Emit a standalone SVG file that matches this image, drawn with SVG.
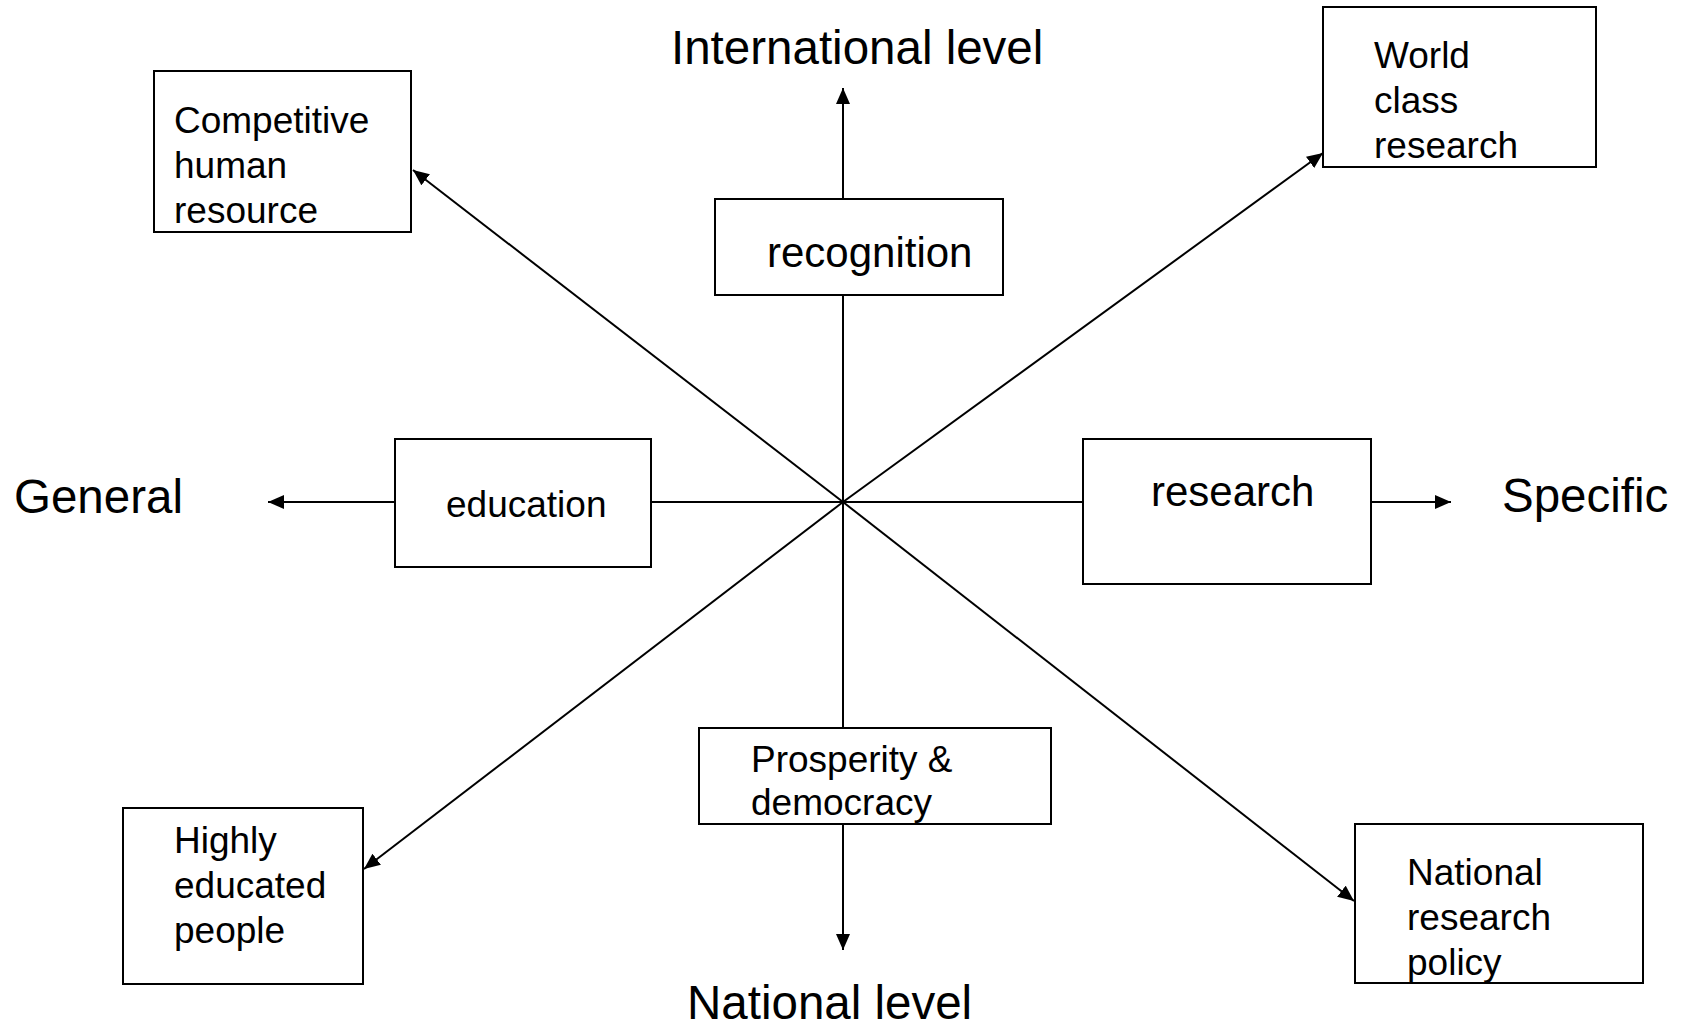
<svg xmlns="http://www.w3.org/2000/svg" width="1686" height="1029" viewBox="0 0 1686 1029">
<style>
  .box { fill: #ffffff; stroke: #000000; stroke-width: 2; }
  .ln { stroke: #000000; stroke-width: 2; fill: none; }
  .big { font-family: "Liberation Sans", Arial, sans-serif; font-size: 47.5px; fill: #000000; }
  .mid { font-family: "Liberation Sans", Arial, sans-serif; font-size: 42px; fill: #000000; }
  .txt { font-family: "Liberation Sans", Arial, sans-serif; font-size: 37px; fill: #000000; }
</style>
<defs>
  <marker id="arr" markerUnits="userSpaceOnUse" markerWidth="16" markerHeight="14" refX="16" refY="7" orient="auto">
    <path d="M0,0 L16,7 L0,14 z" fill="#000000"/>
  </marker>
</defs>
<rect x="0" y="0" width="1686" height="1029" fill="#ffffff"/>

<g id="connectors">
  <line class="ln" x1="843" y1="502" x2="843" y2="88" marker-end="url(#arr)"/>
  <line class="ln" x1="843" y1="502" x2="843" y2="950" marker-end="url(#arr)"/>
  <line class="ln" x1="843" y1="502" x2="268" y2="502" marker-end="url(#arr)"/>
  <line class="ln" x1="843" y1="502" x2="1451" y2="502" marker-end="url(#arr)"/>
  <line class="ln" x1="843" y1="502" x2="413" y2="170" marker-end="url(#arr)"/>
  <line class="ln" x1="843" y1="502" x2="1323" y2="153" marker-end="url(#arr)"/>
  <line class="ln" x1="843" y1="502" x2="364" y2="869" marker-end="url(#arr)"/>
  <line class="ln" x1="843" y1="502" x2="1354" y2="901" marker-end="url(#arr)"/>
</g>

<g id="label-international">
  <text class="big" x="671" y="64">International level</text>
</g>
<g id="label-national">
  <text class="big" x="687" y="1019">National level</text>
</g>
<g id="label-general">
  <text class="big" x="14" y="513">General</text>
</g>
<g id="label-specific">
  <text class="big" x="1502" y="512">Specific</text>
</g>

<g id="node-recognition">
  <rect class="box" x="715" y="199" width="288" height="96"/>
  <text class="mid" x="767" y="267">recognition</text>
</g>
<g id="node-education">
  <rect class="box" x="395" y="439" width="256" height="128"/>
  <text class="txt" x="446" y="517">education</text>
</g>
<g id="node-research">
  <rect class="box" x="1083" y="439" width="288" height="145"/>
  <text class="mid" x="1151" y="506">research</text>
</g>
<g id="node-prosperity">
  <rect class="box" x="699" y="728" width="352" height="96"/>
  <text class="txt" x="751" y="772">Prosperity &amp;</text>
  <text class="txt" x="751" y="815">democracy</text>
</g>
<g id="node-competitive">
  <rect class="box" x="154" y="71" width="257" height="161"/>
  <text class="txt" x="174" y="133">Competitive</text>
  <text class="txt" x="174" y="178">human</text>
  <text class="txt" x="174" y="223">resource</text>
</g>
<g id="node-world">
  <rect class="box" x="1323" y="7" width="273" height="160"/>
  <text class="txt" x="1374" y="68">World</text>
  <text class="txt" x="1374" y="113">class</text>
  <text class="txt" x="1374" y="158">research</text>
</g>
<g id="node-highly">
  <rect class="box" x="123" y="808" width="240" height="176"/>
  <text class="txt" x="174" y="853">Highly</text>
  <text class="txt" x="174" y="898">educated</text>
  <text class="txt" x="174" y="943">people</text>
</g>
<g id="node-national-policy">
  <rect class="box" x="1355" y="824" width="288" height="159"/>
  <text class="txt" x="1407" y="885">National</text>
  <text class="txt" x="1407" y="930">research</text>
  <text class="txt" x="1407" y="975">policy</text>
</g>
</svg>
